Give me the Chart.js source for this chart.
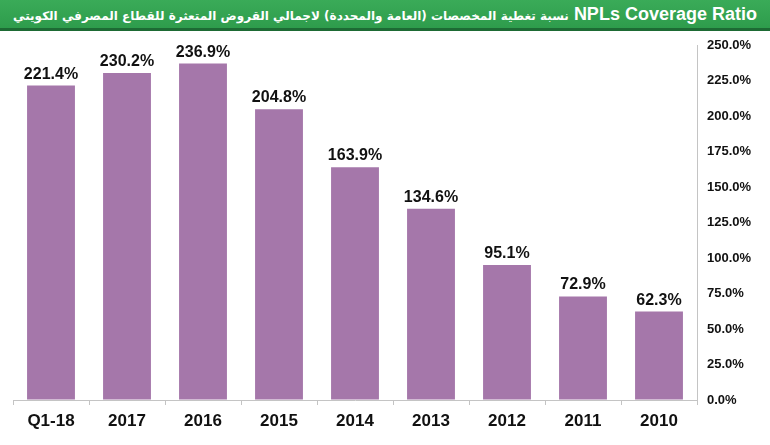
<!DOCTYPE html>
<html lang="ar">
<head>
    <meta charset="UTF-8">
    <title>NPLs Coverage Ratio</title>
    <script src="https://cdn.jsdelivr.net/npm/chart.js"></script>
    <style>
        html, body { margin: 0; padding: 0; background: #ffffff; }
        #wrap { position: relative; width: 770px; height: 445px; overflow: hidden; }
        #title {
            position: absolute; left: 0; top: 0; width: 770px; height: 28px;
            background: linear-gradient(#3aab58, #2e9c4c);
            border-bottom: 3px solid #1d6a34;
            color: #ffffff; font-family: "Liberation Sans", "DejaVu Sans", sans-serif;
            font-weight: bold; font-size: 18px; line-height: 29px;
            direction: rtl; text-align: center; white-space: nowrap;
            z-index: 2;
        }
        #title .ar { font-family: "DejaVu Sans", sans-serif; font-size: 14px; }
        canvas { position: absolute; left: 0; top: 0; }
    </style>
</head>
<body>
<div id="wrap">
    <div id="title"><span id="en">NPLs Coverage Ratio</span> <span class="ar" id="ar">نسبة تغطية المخصصات (العامة والمحددة) لاجمالي القروض المتعثرة للقطاع المصرفي الكويتي</span></div>
    <canvas id="npl" width="770" height="445"></canvas>
</div>

<script>
    const categories = ['Q1-18', '2017', '2016', '2015', '2014', '2013', '2012', '2011', '2010'];
    const coverage = [221.4, 230.2, 236.9, 204.8, 163.9, 134.6, 95.1, 72.9, 62.3];
    const yMax = 250;
    const yStep = 25;

    const barColor = '#a577aa';
    const axisColor = '#c4c4c4';
    const fontName = '"Liberation Sans", Arial, sans-serif';

    // shrink the arabic part of the heading so the whole line fits the bar
    const ar = document.getElementById('ar');
    let arSize = 14;
    while (ar.getBoundingClientRect().width > 565 && arSize > 8) {
        arSize -= 0.25;
        ar.style.fontSize = arSize + 'px';
    }

    // value labels on top of each bar
    const valueLabels = {
        id: 'valueLabels',
        afterDatasetsDraw(chart) {
            const ctx = chart.ctx;
            const meta = chart.getDatasetMeta(0);
            ctx.save();
            ctx.font = 'bold 16px ' + fontName;
            ctx.fillStyle = '#111111';
            ctx.textAlign = 'center';
            ctx.textBaseline = 'alphabetic';
            meta.data.forEach((bar, i) => {
                ctx.fillText(coverage[i].toFixed(1) + '%', bar.x, bar.y - 7);
            });
            ctx.restore();
        }
    };

    new Chart(document.getElementById('npl'), {
        type: 'bar',
        data: {
            labels: categories,
            datasets: [{
                data: coverage,
                backgroundColor: barColor,
                borderWidth: 0,
                barPercentage: 0.63,
                categoryPercentage: 1.0
            }]
        },
        options: {
            responsive: false,
            animation: false,
            layout: { padding: { left: 13, right: 0, top: 45, bottom: 0 } },
            plugins: { legend: { display: false }, tooltip: { enabled: false } },
            scales: {
                x: {
                    offset: true,
                    grid: { offset: true, drawOnChartArea: false, drawTicks: true, tickLength: 5, color: axisColor },
                    border: { color: axisColor, width: 1 },
                    ticks: { color: '#111111', font: { family: fontName, size: 17, weight: 'bold' }, padding: 6, maxRotation: 0 },
                    afterFit: (s) => { s.height = 45; }
                },
                y: {
                    position: 'right',
                    min: 0,
                    max: yMax,
                    grid: { drawOnChartArea: false, drawTicks: false },
                    border: { color: axisColor, width: 1 },
                    ticks: {
                        stepSize: yStep,
                        color: '#111111',
                        padding: 10,
                        font: { family: fontName, size: 13, weight: 'bold' },
                        callback: (v) => v.toFixed(1) + '%'
                    },
                    afterFit: (s) => { s.width = 73; }
                }
            }
        },
        plugins: [valueLabels]
    });
</script>
</body>
</html>
